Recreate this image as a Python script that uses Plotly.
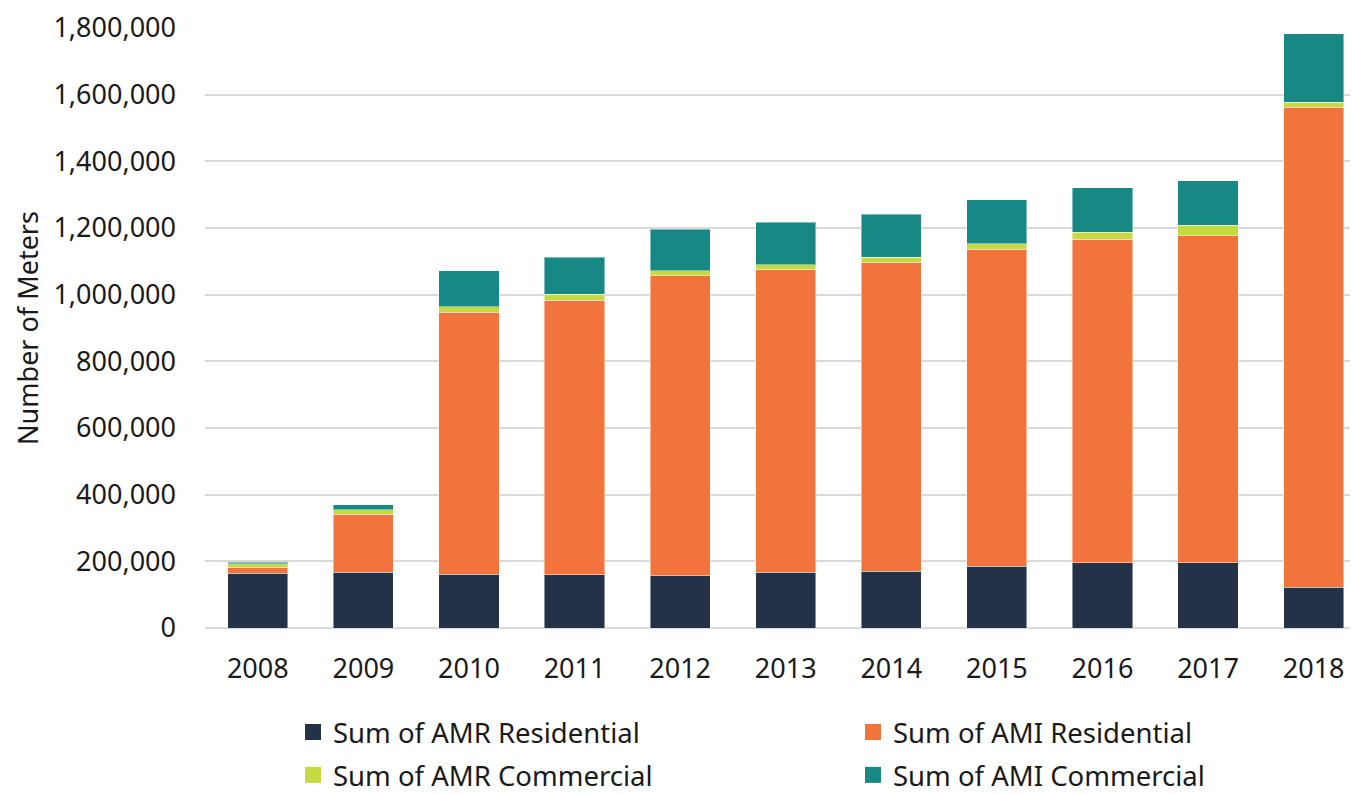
import plotly.graph_objects as go

years = ["2008", "2009", "2010", "2011", "2012", "2013", "2014", "2015", "2016", "2017", "2018"]

amr_residential = [165000, 167000, 161000, 160000, 157000, 167000, 170000, 185000, 196000, 196000, 123000]
ami_residential = [17000, 175000, 786000, 823000, 900000, 908000, 927000, 951000, 970000, 981000, 1439000]
amr_commercial = [11000, 13000, 17000, 18000, 15000, 15000, 16000, 17000, 21000, 31000, 15000]
ami_commercial = [5000, 15000, 108000, 112000, 125000, 127000, 129000, 132000, 134000, 134000, 206000]

y_ticks = [0, 200000, 400000, 600000, 800000, 1000000, 1200000, 1400000, 1600000, 1800000]

FONT = "Noto Sans, Open Sans, sans-serif"
TEXT = "#1a1a1a"
GRID = "#d9d9d9"

# page body has an 8px margin, so the figure is drawn 8px in from the window corner
W, H = 1350, 787

series = [
    ("Sum of AMR Residential", amr_residential, "#243248"),
    ("Sum of AMI Residential", ami_residential, "#f2733c"),
    ("Sum of AMR Commercial", amr_commercial, "#c5da40"),
    ("Sum of AMI Commercial", ami_commercial, "#178884"),
]
# one legend per entry so the 2x2 grid sits where the original has it
legend_ids = ["legend", "legend2", "legend3", "legend4"]
legend_pos = [(310, 724), (870, 724), (310, 767), (870, 767)]  # symbol centre, figure px

fig = go.Figure()
for name, values, color in series:
    fig.add_trace(go.Bar(
        x=years, y=values, name=name, showlegend=False,
        marker=dict(color=color, line=dict(color="rgba(255,255,255,0.45)", width=1)),
    ))

# legend-only markers so the swatches are the size of the original's
for (name, _, color), leg in zip(series, legend_ids):
    fig.add_trace(go.Scatter(
        x=[None], y=[None], name=name, mode="markers", legend=leg,
        marker=dict(symbol="square", size=16, color=color),
    ))

legends = {}
for leg, (cx, cy) in zip(legend_ids, legend_pos):
    legends[leg] = dict(
        orientation="h", xref="container", yref="container",
        x=(cx - 25) / W, y=1 - cy / H, xanchor="left", yanchor="middle",
        font=dict(family=FONT, size=27.5, color=TEXT), bgcolor="rgba(0,0,0,0)",
        traceorder="normal",
    )

fig.update_layout(
    barmode="stack",
    bargap=0.43,
    width=W, height=H,
    margin=dict(l=197, r=0, t=20, b=167),
    paper_bgcolor="white", plot_bgcolor="white",
    font=dict(family=FONT, size=27, color=TEXT),
    xaxis=dict(
        range=[-0.5, 10.42], showgrid=False, showline=False, zeroline=False,
        ticks="", ticklabelstandoff=22, tickfont=dict(size=27),
    ),
    yaxis=dict(
        range=[0, 1800000], tickvals=y_ticks, tickformat=",d",
        showgrid=True, gridcolor=GRID, gridwidth=1.5,
        zeroline=True, zerolinecolor=GRID, zerolinewidth=1.5,
        showline=False, ticks="", ticklabelstandoff=28,
        tickfont=dict(size=27),
        title=dict(text="Number of Meters", font=dict(size=27), standoff=6),
    ),
    **legends,
)

fig.write_html("out.html")
